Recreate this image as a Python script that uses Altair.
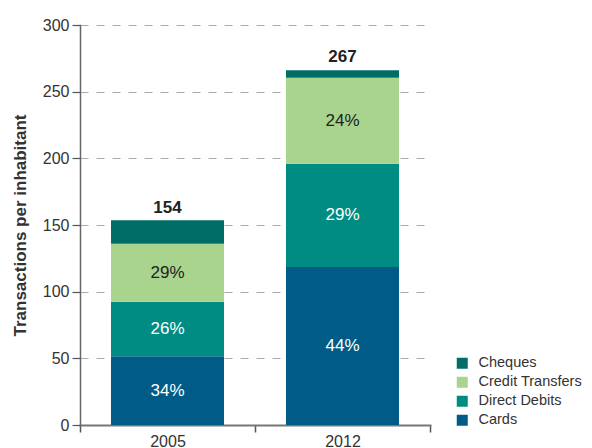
import altair as alt
import pandas as pd

years = ["2005", "2012"]
types = ["Cards", "Direct Debits", "Credit Transfers", "Cheques"]
values_2005 = [51.5, 41, 43.5, 17.5]
values_2012 = [118.5, 77.5, 64.5, 5.5]
pct_2005 = ["34%", "26%", "29%", ""]
pct_2012 = ["44%", "29%", "24%", ""]
totals = [154, 267]
legend_order = ["Cheques", "Credit Transfers", "Direct Debits", "Cards"]
colors = ["#006E66", "#A8D48E", "#008C82", "#005C87"]
label_colors = ["white", "white", "#222222", "white"]

rows = []
for yr, vals, pcts in [("2005", values_2005, pct_2005), ("2012", values_2012, pct_2012)]:
    for i, (t, v, p) in enumerate(zip(types, vals, pcts)):
        rows.append({"year": yr, "type": t, "value": v, "pct": p, "order": i, "lc": label_colors[i]})
df = pd.DataFrame(rows)
tot_df = pd.DataFrame({"year": years, "total": totals})

FONT = "Liberation Sans"

x_enc = alt.X(
    "year:N",
    sort=years,
    scale=alt.Scale(paddingInner=0, paddingOuter=0),
    axis=alt.Axis(
        title=None, labelAngle=0, tickBand="extent", domainColor="#777777", domainWidth=2,
        tickColor="#555555", tickSize=7, tickWidth=1.5, labelFontSize=16, labelColor="#333333",
        labelPadding=1, labelFont=FONT, grid=False,
    ),
)

y_scale = alt.Scale(domain=[0, 300], nice=False)

bars = alt.Chart(df).mark_bar(size=113).encode(
    x=x_enc,
    y=alt.Y(
        "value:Q",
        stack="zero",
        scale=y_scale,
        axis=alt.Axis(
            title="Transactions per inhabitant", values=[0, 50, 100, 150, 200, 250, 300],
            titleFont=FONT, titleFontSize=17, titleFontWeight="bold", titleColor="#333333",
            titlePadding=13, labelFont=FONT, labelFontSize=16, labelColor="#333333",
            labelPadding=3, tickSize=8, tickColor="#555555", tickWidth=1.2,
            domainColor="#666666", domainWidth=1.5,
            grid=True, gridDash=[8, 8], gridColor="#AAAAAA", gridWidth=1,
        ),
    ),
    color=alt.Color(
        "type:N",
        scale=alt.Scale(domain=legend_order, range=colors),
        legend=alt.Legend(
            title=None, orient="none", legendX=375, legendY=331, symbolType="square",
            symbolSize=121, symbolStrokeWidth=0, labelFont=FONT, labelFontSize=14.5,
            labelColor="#333333", labelOffset=9, rowPadding=4, padding=0,
        ),
    ),
    order=alt.Order("order:Q"),
)

pct_text = alt.Chart(df).transform_stack(
    stack="value", groupby=["year"], as_=["v0", "v1"], sort=[alt.SortField("order")]
).transform_calculate(mid="(datum.v0 + datum.v1) / 2").mark_text(
    font=FONT, fontSize=17, baseline="middle", align="center"
).encode(
    x=alt.X("year:N", sort=years),
    y=alt.Y("mid:Q", scale=y_scale),
    text="pct:N",
    color=alt.Color("lc:N", scale=None),
)

tot_text = alt.Chart(tot_df).mark_text(
    font=FONT, fontSize=17, fontWeight="bold", baseline="middle", align="center", dy=-12, color="#222222"
).encode(
    x=alt.X("year:N", sort=years),
    y=alt.Y("total:Q", scale=y_scale),
    text="total:Q",
)

chart = alt.layer(bars, pct_text, tot_text).properties(
    width=350, height=400,
    autosize=alt.AutoSizeParams(type="none"),
    padding={"left": 72, "top": 17, "right": 154, "bottom": 23},
).configure_view(stroke=None).configure_axis(domainCap="square")

chart.save("out.html", embed_options={"renderer": "svg", "actions": False})
